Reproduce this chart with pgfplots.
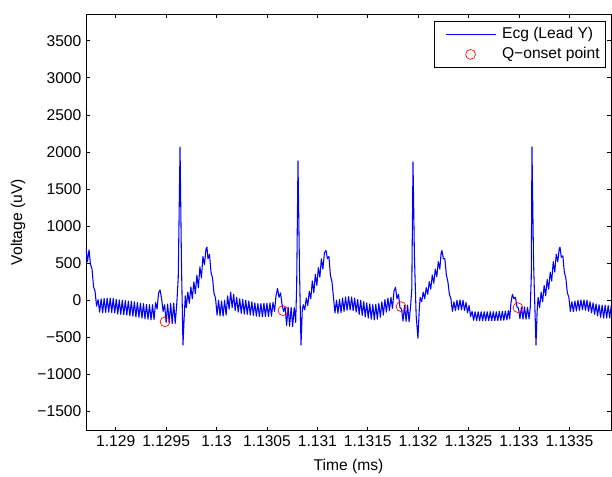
\documentclass[border=0pt]{standalone}
\usepackage{fontspec}
\setmainfont{Liberation Sans}
\usepackage{pgfplots}
\usepackage{pgfplotstable}
\pgfplotsset{compat=1.18}

\pgfplotsset{
    lineleg/.style={legend image code/.code={\path (-3.75pt,0pt); \draw[##1] (0pt,0pt) -- (37.5pt,0pt);}},
    markleg/.style={legend image code/.code={\path (-3.75pt,0pt) (37.5pt,0pt); \draw[##1] plot coordinates {(18.75pt,0pt)};}},
}

% time column: ms minus 1128000 (axis labels show the real 10^6 values)
\pgfplotstableread{
t v
705 700
720 520
735 680
750 480
765 420
780 180
795 120
810 -80
825 10
840 -160
855 20
870 -170
885 25
900 -165
915 30
930 -160
945 30
960 -165
975 25
990 -170
1005 10
1020 -185
1035 5
1050 -190
1065 0
1080 -195
1095 -5
1110 -200
1125 -10
1140 -210
1155 -15
1170 -215
1185 -20
1200 -225
1215 -30
1230 -230
1245 -40
1260 -240
1275 -45
1290 -250
1305 -55
1320 -255
1335 -60
1350 -265
1365 -60
1380 -260
1395 -30
1410 -120
1425 100
1440 140
1455 20
1470 -150
1485 -60
1500 -300
1515 -50
1530 -310
1545 -45
1560 -315
1575 -40
1590 -310
1605 -60
1620 300
1638 2068
1652 500
1667 -603
1680 -200
1690 60
1700 -100
1715 110
1730 -40
1745 180
1760 20
1775 250
1790 90
1805 340
1820 170
1835 450
1850 300
1865 590
1880 480
1895 690
1905 715
1915 560
1930 620
1945 380
1960 300
1975 90
1990 30
2005 -200
2020 0
2035 -210
2050 -10
2065 -215
2080 0
2095 -200
2110 60
2125 -120
2140 110
2155 -100
2170 80
2185 -140
2200 40
2215 -160
2230 20
2245 -175
2260 10
2275 -185
2290 0
2305 -190
2320 -10
2335 -200
2350 -20
2365 -205
2380 -35
2395 -215
2410 -45
2425 -220
2440 -45
2455 -225
2470 -40
2485 -220
2500 -40
2515 -220
2530 -35
2545 -215
2560 -30
2575 -150
2590 60
2605 160
2620 40
2635 100
2650 -60
2665 -150
2680 -90
2695 -340
2710 -90
2725 -350
2740 -95
2755 -355
2770 -100
2785 -300
2795 200
2808 1880
2823 400
2838 -603
2850 -150
2860 -60
2875 -130
2890 30
2905 -70
2920 120
2935 20
2950 260
2965 100
2980 350
2995 200
3010 440
3025 310
3040 560
3055 420
3070 640
3086 670
3100 560
3115 590
3130 330
3145 250
3160 40
3175 -170
3190 0
3205 -175
3220 10
3235 -165
3250 30
3265 -150
3280 45
3295 -135
3310 50
3325 -130
3340 45
3355 -140
3370 30
3385 -160
3400 10
3415 -190
3430 0
3445 -205
3460 -20
3475 -225
3490 -35
3505 -240
3520 -50
3535 -255
3550 -60
3565 -265
3580 -55
3595 -255
3610 -40
3625 -230
3640 -20
3655 -200
3670 10
3685 -160
3700 30
3715 -140
3730 40
3745 -110
3760 120
3775 175
3790 20
3805 80
3820 -100
3835 -120
3850 -280
3865 -70
3880 -285
3895 -65
3910 -290
3925 -80
3937 150
3949 1865
3963 600
3980 -200
3998 -512
4010 -150
4020 40
4035 -20
4050 110
4065 20
4080 170
4095 80
4110 250
4125 150
4140 340
4155 230
4170 420
4185 320
4200 520
4215 420
4228 640
4236 670
4250 560
4265 560
4280 340
4295 250
4310 80
4325 20
4340 -150
4355 -20
4370 -140
4385 0
4400 -130
4415 5
4430 -130
4445 0
4460 -140
4475 -30
4490 -170
4505 -70
4520 -220
4535 -150
4550 -270
4565 -155
4580 -275
4595 -155
4610 -275
4625 -155
4640 -275
4655 -155
4670 -275
4685 -155
4700 -275
4715 -155
4730 -275
4745 -155
4760 -275
4775 -155
4790 -275
4805 -150
4820 -270
4835 -150
4850 -270
4865 -145
4880 -265
4895 -140
4908 -250
4920 -40
4935 80
4950 20
4965 40
4980 -90
4995 -110
5010 -250
5025 -90
5040 -255
5055 -90
5070 -255
5085 -95
5100 -250
5112 -100
5122 300
5129 2067
5145 500
5169 -603
5180 -150
5190 40
5205 -100
5220 110
5235 -20
5250 200
5265 60
5280 280
5295 150
5310 380
5325 260
5340 520
5355 380
5370 620
5385 520
5400 700
5407 715
5420 580
5435 600
5450 380
5465 300
5480 100
5495 40
5510 -150
5525 -20
5540 -155
5555 -10
5570 -145
5585 0
5600 -135
5615 5
5630 -130
5645 5
5660 -135
5675 0
5690 -150
5705 -20
5720 -170
5735 -35
5750 -190
5765 -50
5780 -210
5795 -60
5810 -230
5825 -65
5840 -240
5855 -65
5870 -240
5885 -70
5900 -240
5915 -70
}\ecg

\pgfplotstableread{
t v
1489 -290
2659 -140
3830 -86
4990 -100
}\qonset

\begin{document}
\begin{tikzpicture}
\useasboundingbox (0pt,0pt) rectangle (459pt,357pt);
\begin{axis}[
    at={(64.5pt,34.125pt)}, anchor=south west,
    width=393.75pt, height=312.375pt,
    scale only axis,
    xmin=705, xmax=5913,
    ymin=-1756, ymax=3860,
    axis line style={black, line width=0.6pt},
    tick style={black, line width=0.5pt},
    major tick length=3pt,
    tick align=inside,
    xtick pos=both, ytick pos=both,
    xticklabel pos=lower, yticklabel pos=left,
    xtick={1000,1500,2000,2500,3000,3500,4000,4500,5000,5500},
    xticklabels={1.129,1.1295,1.13,1.1305,1.131,1.1315,1.132,1.1325,1.133,1.1335},
    ytick={-1500,-1000,-500,0,500,1000,1500,2000,2500,3000,3500},
    yticklabels={−1500,−1000,−500,0,500,1000,1500,2000,2500,3000,3500},
    tick label style={font=\fontsize{11.7}{14}\selectfont},
    xlabel={Time (ms)},
    ylabel={Voltage (uV)},
    label style={font=\fontsize{11.7}{14}\selectfont},
    xlabel style={at={(axis description cs:0.5,-0.0852)}, anchor=center},
    ylabel style={at={(axis description cs:-0.1295,0.5)}, anchor=center},
    legend cell align=left,
    legend style={
        at={(0.9905,0.983)}, anchor=north east,
        draw=black, line width=0.5pt, fill=white,
        inner xsep=4.5pt, inner ysep=3.75pt,
        row sep=3pt, column sep=4.5pt,
        font=\fontsize{11.7}{14}\selectfont,
        nodes={inner xsep=0pt, inner ysep=0pt, text height=9pt, text depth=3pt},
    },
]
\addplot[color=blue, line width=0.8pt, line join=round, no markers, lineleg]
    table[x=t, y=v] {\ecg};
\addlegendentry{Ecg (Lead Y)}
\addplot[only marks, mark=o, mark size=3.7pt, color=red, line width=0.5pt, markleg]
    table[x=t, y=v] {\qonset};
\addlegendentry{Q−onset point}
\node[anchor=base west, font=\fontsize{11.7}{14}\selectfont]
    at (axis description cs:0.939,-0.0996) {x 10\raisebox{0.85ex}{\fontsize{8.5}{9}\selectfont 6}};
\end{axis}
\end{tikzpicture}
\end{document}
